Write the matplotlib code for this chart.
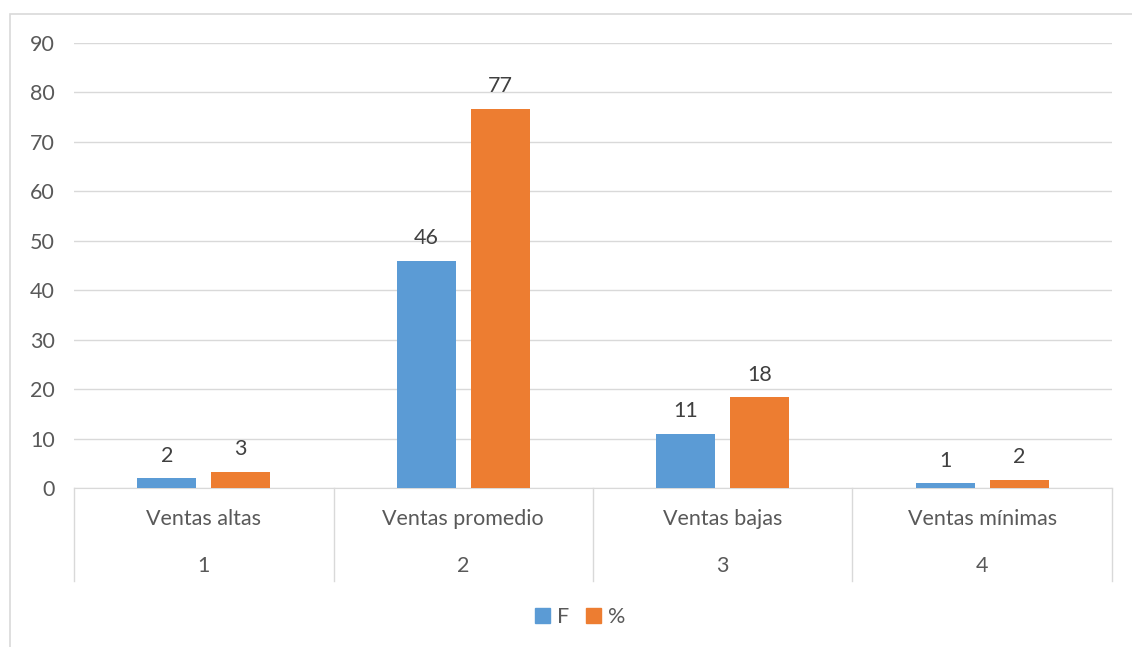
import numpy as np
import matplotlib.pyplot as plt
from matplotlib.patches import Rectangle
from matplotlib.lines import Line2D

categories = ['Ventas altas', 'Ventas promedio', 'Ventas bajas', 'Ventas mínimas']
cat_numbers = ['1', '2', '3', '4']
f_values = [2, 46, 11, 1]
pct_values = [3.33, 76.67, 18.33, 1.67]
yticks = [0, 10, 20, 30, 40, 50, 60, 70, 80, 90]

blue = '#5b9bd5'
orange = '#ed7d31'
txt = '#595959'
fs = 15.5

plt.rcParams['font.family'] = ['Lato', 'DejaVu Sans']

fig = plt.figure(figsize=(11.32, 6.47), dpi=100)
ax = fig.add_axes([0.0654, 0.2457, 0.9169, 0.6878])

# outer chart border (only top/left visible in the crop)
fig.patches.append(Rectangle((10 / 1132, -0.05), 1.2, 1 - 14 / 647 + 0.05,
                             transform=fig.transFigure, fill=False,
                             edgecolor='#d9d9d9', linewidth=1.2))

x = np.arange(len(categories))
w = 0.227
off = (w + 0.058) / 2
b1 = ax.bar(x - off, f_values, w, color=blue, zorder=3)
b2 = ax.bar(x + off, pct_values, w, color=orange, zorder=3)

for bars, vals in ((b1, f_values), (b2, pct_values)):
    for r, v in zip(bars, vals):
        ax.annotate(f'{v:.0f}', (r.get_x() + r.get_width() / 2, r.get_height()),
                    xytext=(0, 9), textcoords='offset points',
                    ha='center', va='bottom', fontsize=fs, color='#404040')

ax.set_xlim(-0.5, len(categories) - 0.5)
ax.set_ylim(0, 90)
ax.set_yticks(yticks)
ax.tick_params(axis='y', length=0, labelsize=fs, labelcolor=txt, pad=14)
ax.yaxis.grid(True, color='#d9d9d9', linewidth=1, zorder=0)
ax.set_xticks([])
for s in ['top', 'right', 'left']:
    ax.spines[s].set_visible(False)
ax.spines['bottom'].set_color('#d9d9d9')

# multi-level category axis
trans = ax.get_xaxis_transform()
for i in range(len(categories) + 1):
    ax.add_line(Line2D([i - 0.5, i - 0.5], [0, -0.209], transform=trans,
                       color='#d9d9d9', linewidth=1, clip_on=False))
for i, (c, n) in enumerate(zip(categories, cat_numbers)):
    ax.text(i, -0.069, c, transform=trans, ha='center', va='center',
            fontsize=fs, color=txt)
    ax.text(i, -0.175, n, transform=trans, ha='center', va='center',
            fontsize=fs, color=txt)

handles = [Rectangle((0, 0), 1, 1, color=blue), Rectangle((0, 0), 1, 1, color=orange)]
fig.legend(handles, ['F', '%'], loc='center', bbox_to_anchor=(580 / 1132, 1 - 617 / 647),
           ncol=2, frameon=False, fontsize=fs, labelcolor=txt,
           handlelength=0.7, handleheight=0.7, handletextpad=0.3, columnspacing=0.8)

fig.savefig('out.png', dpi=100)
